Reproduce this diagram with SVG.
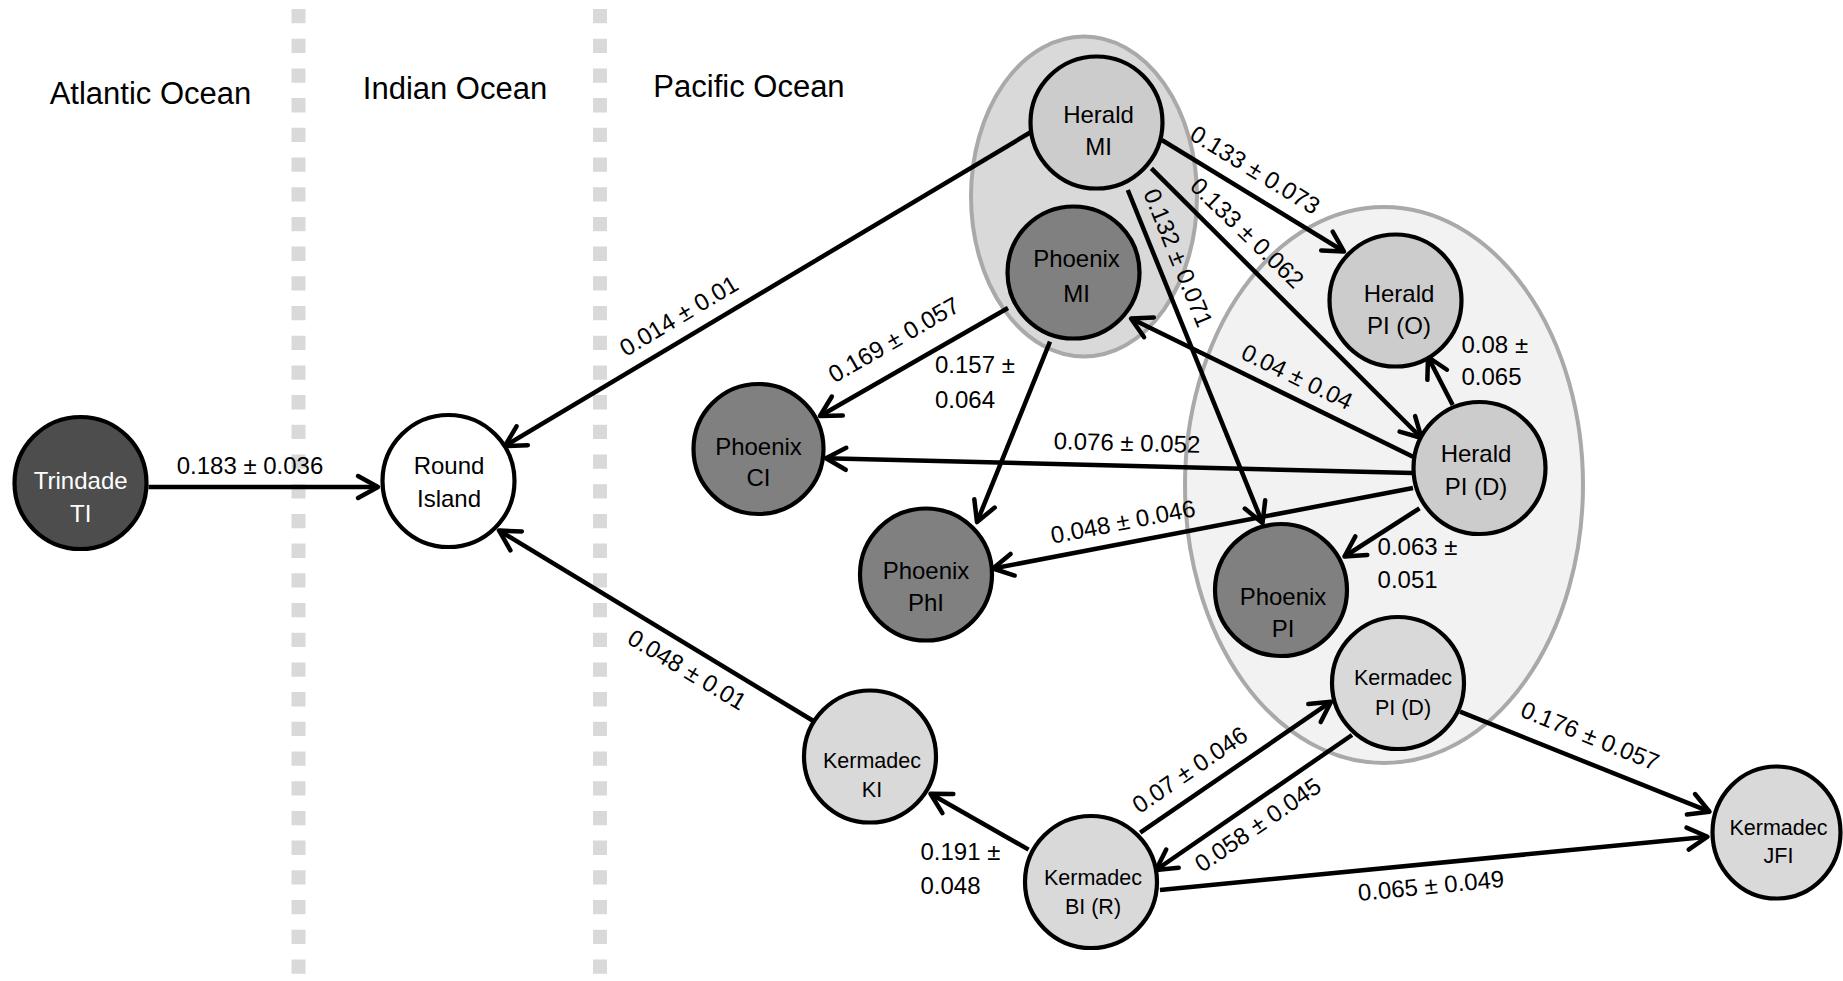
<svg xmlns="http://www.w3.org/2000/svg" width="1843" height="981" viewBox="0 0 1843 981">
<defs>
<style>
.t{font-family:"Liberation Sans",Arial,sans-serif;fill:#000}
.title{font-size:31px;text-anchor:middle}
.nt{font-size:24px;text-anchor:middle}
.kt{font-size:21.5px;text-anchor:middle}
.lb{font-size:24px}
.lc{font-size:24px;text-anchor:middle}
.node{stroke:#000;stroke-width:4.2}
.edge{stroke:#000;stroke-width:4.5;fill:none;marker-end:url(#arr)}
.div{stroke:#d9d9d9;stroke-width:14;stroke-dasharray:14.3 15.4}
.grp{stroke:#a9a9a9;stroke-width:4}
</style>
<marker id="arr" markerUnits="userSpaceOnUse" viewBox="-26 -16 30 32" refX="0" refY="0" markerWidth="30" markerHeight="32" orient="auto">
<path d="M-20,-11 L0,0 L-20,11" fill="none" stroke="#000" stroke-width="4.5" stroke-linecap="round" stroke-linejoin="round"/>
</marker>
</defs>
<rect width="1843" height="981" fill="#fff"/>
<g id="dividers">
<line class="div" x1="298.5" y1="9" x2="298.5" y2="981"/>
<line class="div" x1="600" y1="9" x2="600" y2="981"/>
</g>
<g id="titles">
<text class="t title" x="150.5" y="103.5">Atlantic Ocean</text>
<text class="t title" x="455" y="99">Indian Ocean</text>
<text class="t title" x="749" y="96.5">Pacific Ocean</text>
</g>
<g id="groups">
<ellipse id="group-mi" class="grp" cx="1084" cy="196.5" rx="113" ry="160" fill="#d9d9d9"/>
<ellipse id="group-pi" class="grp" cx="1384" cy="485" rx="199" ry="278" fill="#f2f2f2"/>
</g>
<g id="connectors">
<line class="edge" x1="148.5" y1="487" x2="378" y2="487"/>
<line class="edge" x1="1031" y1="132" x2="505" y2="446"/>
<line class="edge" x1="1008" y1="308" x2="820" y2="416"/>
<line class="edge" x1="1050" y1="341.7" x2="977" y2="522"/>
<line class="edge" x1="1161.8" y1="140" x2="1344" y2="251.5"/>
<line class="edge" x1="1151.4" y1="168.3" x2="1421.5" y2="438"/>
<line class="edge" x1="1127.8" y1="190" x2="1262.5" y2="523"/>
<line class="edge" x1="1413" y1="456.7" x2="1131" y2="318.5"/>
<line class="edge" x1="1413" y1="473" x2="826" y2="458.3"/>
<line class="edge" x1="1413" y1="488" x2="993" y2="568.5"/>
<line class="edge" x1="1452.7" y1="405" x2="1428" y2="357"/>
<line class="edge" x1="1419.5" y1="508.3" x2="1344.5" y2="556.5"/>
<line class="edge" x1="813.4" y1="721" x2="499" y2="530.5"/>
<line class="edge" x1="1028.6" y1="849.6" x2="930.5" y2="793.7"/>
<line class="edge" x1="1140.2" y1="832.6" x2="1331" y2="701.7"/>
<line class="edge" x1="1352" y1="735" x2="1156" y2="870"/>
<line class="edge" x1="1160" y1="890" x2="1707.5" y2="836.7"/>
<line class="edge" x1="1460" y1="711.7" x2="1709.5" y2="811.7"/>
</g>
<g id="edge-labels">
<text class="t lc" x="250" y="474">0.183 ± 0.036</text>
<text class="t lc" transform="translate(679,316) rotate(-31)" x="0" y="8">0.014 ± 0.01</text>
<text class="t lc" transform="translate(894,340) rotate(-30)" x="0" y="8">0.169 ± 0.057</text>
<text class="t lb" x="935" y="373">0.157 ±</text>
<text class="t lb" x="935" y="408">0.064</text>
<text class="t lc" transform="translate(1255,170) rotate(31.5)" x="0" y="8">0.133 ± 0.073</text>
<text class="t lc" transform="translate(1247,233) rotate(44)" x="0" y="8">0.133 ± 0.062</text>
<text class="t lc" transform="translate(1178,258) rotate(68)" x="0" y="8">0.132 ± 0.071</text>
<text class="t lc" transform="translate(1297,377) rotate(26)" x="0" y="8">0.04 ± 0.04</text>
<text class="t lc" transform="translate(1127,443) rotate(1.5)" x="0" y="8">0.076 ± 0.052</text>
<text class="t lc" transform="translate(1123,522) rotate(-11)" x="0" y="8">0.048 ± 0.046</text>
<text class="t lb" x="1461.5" y="353">0.08 ±</text>
<text class="t lb" x="1461.5" y="385">0.065</text>
<text class="t lb" x="1377.6" y="555">0.063 ±</text>
<text class="t lb" x="1377.6" y="588">0.051</text>
<text class="t lc" transform="translate(687,670) rotate(31)" x="0" y="8">0.048 ± 0.01</text>
<text class="t lb" x="920.5" y="860">0.191 ±</text>
<text class="t lb" x="920.5" y="893.6">0.048</text>
<text class="t lc" transform="translate(1190,770) rotate(-34.4)" x="0" y="8">0.07 ± 0.046</text>
<text class="t lc" transform="translate(1258,825) rotate(-34.5)" x="0" y="8">0.058 ± 0.045</text>
<text class="t lc" transform="translate(1431,886) rotate(-5.6)" x="0" y="8">0.065 ± 0.049</text>
<text class="t lc" transform="translate(1590,736) rotate(22)" x="0" y="8">0.176 ± 0.057</text>
</g>
<g id="node-trindade-ti">
<circle class="node" cx="80.5" cy="483" r="66" fill="#4d4d4d"/>
<text class="t nt" x="80.7" y="489" style="fill:#fff">Trindade</text>
<text class="t nt" x="80.7" y="522" style="fill:#fff">TI</text>
</g>
<g id="node-round-island">
<circle class="node" cx="448.5" cy="481" r="66" fill="#fff"/>
<text class="t nt" x="449" y="474">Round</text>
<text class="t nt" x="449" y="506.5">Island</text>
</g>
<g id="node-herald-mi">
<circle class="node" cx="1096.5" cy="122.5" r="66" fill="#cccccc"/>
<text class="t nt" x="1098.5" y="123">Herald</text>
<text class="t nt" x="1098.5" y="155">MI</text>
</g>
<g id="node-phoenix-mi">
<circle class="node" cx="1073.5" cy="272.5" r="66" fill="#808080"/>
<text class="t nt" x="1076.5" y="266.7">Phoenix</text>
<text class="t nt" x="1076.5" y="301.7">MI</text>
</g>
<g id="node-phoenix-ci">
<circle class="node" cx="758.5" cy="449" r="65" fill="#808080"/>
<text class="t nt" x="758.5" y="455">Phoenix</text>
<text class="t nt" x="758.5" y="486">CI</text>
</g>
<g id="node-phoenix-phi">
<circle class="node" cx="926" cy="574.5" r="66" fill="#808080"/>
<text class="t nt" x="926" y="578.7">Phoenix</text>
<text class="t nt" x="926" y="611">PhI</text>
</g>
<g id="node-herald-pi-o">
<circle class="node" cx="1395.5" cy="300.5" r="66" fill="#cccccc"/>
<text class="t nt" x="1399" y="301.7">Herald</text>
<text class="t nt" x="1399" y="334">PI (O)</text>
</g>
<g id="node-herald-pi-d">
<circle class="node" cx="1479.5" cy="468" r="66" fill="#cccccc"/>
<text class="t nt" x="1476" y="461.7">Herald</text>
<text class="t nt" x="1476" y="495">PI (D)</text>
</g>
<g id="node-phoenix-pi">
<circle class="node" cx="1281" cy="590" r="66" fill="#808080"/>
<text class="t nt" x="1283" y="605">Phoenix</text>
<text class="t nt" x="1283" y="637">PI</text>
</g>
<g id="node-kermadec-pi-d">
<circle class="node" cx="1398" cy="683" r="66" fill="#d9d9d9"/>
<text class="t kt" x="1403" y="685">Kermadec</text>
<text class="t kt" x="1403" y="715">PI (D)</text>
</g>
<g id="node-kermadec-ki">
<circle class="node" cx="870" cy="756.5" r="66" fill="#d9d9d9"/>
<text class="t kt" x="872" y="768">Kermadec</text>
<text class="t kt" x="872" y="797">KI</text>
</g>
<g id="node-kermadec-bi-r">
<circle class="node" cx="1091" cy="882" r="66" fill="#d9d9d9"/>
<text class="t kt" x="1093" y="885">Kermadec</text>
<text class="t kt" x="1093" y="914">BI (R)</text>
</g>
<g id="node-kermadec-jfi">
<ellipse class="node" cx="1776.5" cy="832.5" rx="64" ry="66" fill="#d9d9d9"/>
<text class="t kt" x="1778.5" y="835">Kermadec</text>
<text class="t kt" x="1778.5" y="863">JFI</text>
</g>
</svg>
